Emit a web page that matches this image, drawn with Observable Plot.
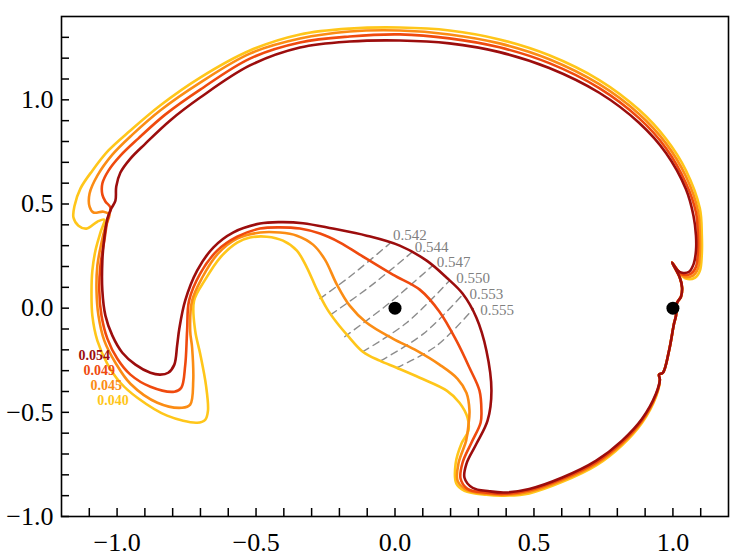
<!DOCTYPE html>
<html>
<head>
<meta charset="utf-8">
<script src="https://cdn.jsdelivr.net/npm/d3@7"></script>
<script src="https://cdn.jsdelivr.net/npm/@observablehq/plot@0.6"></script>
<style>
  html, body { margin: 0; padding: 0; background: #fff; }
  #chart { width: 730px; height: 557px; }
</style>
</head>
<body>
<div id="chart"></div>
<script>
// Outer contour levels and their colours
const levels = ["0.040", "0.045", "0.049", "0.054"];
const levelColors = ["#ffc61a", "#fb8c14", "#ef4a0e", "#9c0d0d"];

// Shared right-hand stretch near the second primary (all levels coincide here)
const rightSide = [[0.953,-0.343],[0.950,-0.319],[0.964,-0.310],[0.986,-0.204],[1.004,-0.074],[1.011,-0.036],[1.015,0.026],[1.029,0.055],[1.033,0.098],[1.025,0.146],[0.997,0.219],[1.018,0.180]];

const curve054 = [[1.033,0.170],[1.058,0.175],[1.075,0.214],[1.083,0.276],[1.083,0.348],[1.074,0.444],[1.047,0.571],[0.975,0.745],[0.878,0.890],[0.735,1.034],[0.555,1.153],[0.376,1.229],[0.196,1.271],[0.017,1.285],[-0.163,1.280],[-0.342,1.251],[-0.522,1.165],[-0.701,1.011],[-0.809,0.901],[-0.898,0.790],[-0.952,0.718],[-0.988,0.651],[-1.003,0.584],[-1.006,0.516],[-1.021,0.478],[-1.035,0.430],[-1.046,0.339],[-1.053,0.228],[-1.053,0.084],[-1.042,-0.036],[-1.017,-0.132],[-0.981,-0.214],[-0.934,-0.271],[-0.880,-0.310],[-0.845,-0.319],[-0.816,-0.310],[-0.794,-0.271],[-0.784,-0.180],[-0.776,-0.098],[-0.755,0.036],[-0.712,0.180],[-0.654,0.291],[-0.583,0.363],[-0.486,0.406],[-0.414,0.413],[-0.331,0.408],[-0.224,0.382],[-0.102,0.348],[0.017,0.300],[0.114,0.228],[0.186,0.146],[0.243,0.070],[0.293,-0.046],[0.329,-0.204],[0.347,-0.396],[0.333,-0.540],[0.293,-0.651],[0.257,-0.747],[0.250,-0.814],[0.279,-0.862],[0.340,-0.879],[0.394,-0.885],[0.483,-0.868],[0.602,-0.813],[0.724,-0.732],[0.817,-0.636],[0.889,-0.531],[0.939,-0.411]];

const curve049 = [[1.036,0.161],[1.065,0.166],[1.083,0.199],[1.090,0.271],[1.090,0.348],[1.083,0.459],[1.047,0.600],[0.975,0.768],[0.878,0.912],[0.735,1.056],[0.555,1.176],[0.376,1.252],[0.196,1.295],[0.017,1.314],[-0.163,1.304],[-0.342,1.275],[-0.522,1.198],[-0.701,1.049],[-0.827,0.929],[-0.924,0.814],[-0.988,0.732],[-1.031,0.660],[-1.053,0.598],[-1.053,0.545],[-1.042,0.512],[-1.024,0.483],[-1.035,0.420],[-1.046,0.324],[-1.060,0.204],[-1.064,0.084],[-1.056,-0.036],[-1.035,-0.146],[-0.999,-0.243],[-0.952,-0.319],[-0.880,-0.377],[-0.794,-0.401],[-0.769,-0.382],[-0.755,-0.276],[-0.748,-0.108],[-0.741,0.036],[-0.701,0.166],[-0.640,0.276],[-0.568,0.343],[-0.486,0.382],[-0.414,0.388],[-0.342,0.382],[-0.270,0.358],[-0.198,0.315],[-0.127,0.257],[-0.008,0.161],[0.089,0.089],[0.160,-0.017],[0.221,-0.156],[0.268,-0.286],[0.304,-0.396],[0.311,-0.492],[0.308,-0.550],[0.275,-0.646],[0.243,-0.742],[0.236,-0.819],[0.261,-0.867],[0.329,-0.886],[0.394,-0.891],[0.483,-0.874],[0.602,-0.819],[0.724,-0.740],[0.817,-0.644],[0.889,-0.538],[0.939,-0.415]];

const curve045 = [[1.040,0.151],[1.072,0.156],[1.090,0.190],[1.097,0.267],[1.097,0.348],[1.090,0.468],[1.047,0.632],[0.975,0.791],[0.878,0.932],[0.735,1.075],[0.555,1.195],[0.376,1.271],[0.196,1.314],[0.017,1.333],[-0.163,1.328],[-0.342,1.294],[-0.522,1.222],[-0.701,1.083],[-0.845,0.949],[-0.945,0.833],[-1.017,0.737],[-1.071,0.636],[-1.099,0.550],[-1.099,0.487],[-1.085,0.459],[-1.049,0.463],[-1.028,0.449],[-1.042,0.392],[-1.056,0.315],[-1.071,0.204],[-1.074,0.084],[-1.067,-0.036],[-1.046,-0.156],[-1.006,-0.262],[-0.952,-0.363],[-0.855,-0.454],[-0.766,-0.478],[-0.737,-0.463],[-0.726,-0.348],[-0.730,-0.190],[-0.737,-0.108],[-0.730,0.036],[-0.694,0.146],[-0.637,0.262],[-0.568,0.334],[-0.486,0.363],[-0.414,0.363],[-0.353,0.348],[-0.295,0.305],[-0.252,0.233],[-0.209,0.113],[-0.163,0.012],[-0.102,-0.070],[-0.008,-0.146],[0.078,-0.204],[0.160,-0.271],[0.225,-0.339],[0.257,-0.406],[0.268,-0.492],[0.264,-0.564],[0.256,-0.636],[0.229,-0.742],[0.225,-0.828],[0.257,-0.872],[0.329,-0.891],[0.394,-0.896],[0.483,-0.881],[0.602,-0.826],[0.724,-0.747],[0.817,-0.651],[0.889,-0.543],[0.939,-0.420]];

const curve040 = [[1.047,0.142],[1.079,0.146],[1.097,0.180],[1.104,0.262],[1.104,0.348],[1.097,0.478],[1.047,0.661],[0.975,0.813],[0.878,0.952],[0.735,1.095],[0.555,1.214],[0.376,1.290],[0.196,1.333],[0.017,1.347],[-0.163,1.342],[-0.342,1.314],[-0.522,1.237],[-0.701,1.107],[-0.845,0.973],[-0.952,0.853],[-1.031,0.757],[-1.089,0.660],[-1.132,0.574],[-1.153,0.492],[-1.157,0.435],[-1.139,0.396],[-1.110,0.382],[-1.071,0.415],[-1.046,0.425],[-1.060,0.363],[-1.078,0.276],[-1.089,0.180],[-1.092,0.084],[-1.089,-0.036],[-1.071,-0.156],[-1.035,-0.267],[-0.988,-0.358],[-0.927,-0.430],[-0.820,-0.516],[-0.712,-0.550],[-0.683,-0.536],[-0.673,-0.492],[-0.680,-0.372],[-0.701,-0.219],[-0.719,-0.108],[-0.723,0.036],[-0.683,0.137],[-0.629,0.243],[-0.568,0.315],[-0.522,0.339],[-0.461,0.343],[-0.403,0.324],[-0.353,0.276],[-0.317,0.195],[-0.281,0.089],[-0.245,-0.002],[-0.209,-0.070],[-0.170,-0.132],[-0.116,-0.209],[-0.055,-0.252],[0.006,-0.286],[0.089,-0.334],[0.186,-0.396],[0.232,-0.454],[0.261,-0.526],[0.264,-0.588],[0.239,-0.651],[0.218,-0.747],[0.221,-0.843],[0.250,-0.877],[0.329,-0.896],[0.394,-0.900],[0.483,-0.889],[0.602,-0.834],[0.724,-0.755],[0.817,-0.658],[0.889,-0.550],[0.939,-0.425]];

// Inner family of dashed contours
const innerLevels = ["0.542", "0.544", "0.547", "0.550", "0.553", "0.555"];
const inner542 = [[-0.270,0.046],[-0.163,0.151],[-0.019,0.310]];
const inner544 = [[-0.231,-0.031],[-0.091,0.103],[0.060,0.267]];
const inner547 = [[-0.181,-0.137],[-0.019,0.026],[0.135,0.204]];
const inner550 = [[-0.116,-0.209],[0.042,-0.070],[0.196,0.132]];
const inner553 = [[-0.051,-0.252],[0.103,-0.122],[0.247,0.070]];
const inner555 = [[0.006,-0.286],[0.150,-0.180],[0.282,-0.002]];

// The two primaries
const primaries = [[0, 0], [1, 0]];

// Label anchors (left edge, vertical centre) in data units
const levelLabelSpots = [[-1.071,-0.444],[-1.096,-0.372],[-1.121,-0.300],[-1.139,-0.228]];
const innerLabelSpots = [[-0.007,0.348],[0.071,0.292],[0.150,0.220],[0.220,0.142],[0.268,0.065],[0.307,-0.012]];

// Axis ticks
const xTicks = d3.range(-11, 12).map(i => i / 10);
const yTicks = d3.range(-10, 14).map(i => i / 10);
const isMajor = d => Math.abs(Math.round(d * 10)) % 5 === 0;
const fmt = d3.format(".1f");

const serif = "'Liberation Serif', 'DejaVu Serif', serif";

const outerCurves = [curve040, curve045, curve049, curve054].map(c => c.concat(rightSide));
const innerCurves = [inner542, inner544, inner547, inner550, inner553, inner555];
const innerRows = innerCurves.flatMap((c, i) => c.map(([x, y]) => ({level: innerLevels[i], x, y})));

const chart = Plot.plot({
  width: 730,
  height: 557,
  marginLeft: 61,
  marginRight: 2,
  marginTop: 16,
  marginBottom: 41,
  x: {domain: [-1.2, 1.2]},
  y: {domain: [-1.0, 1.4]},
  style: {fontFamily: serif, background: "#fff", color: "#000", overflow: "visible"},
  marks: [
    // dashed inner contours
    Plot.line(innerRows, {x: "x", y: "y", z: "level", stroke: "#8c8c8c", strokeWidth: 1.4, strokeDasharray: "7,5", curve: "catmull-rom"}),
    // outer contours, lowest level first so the darkest sits on top
    ...outerCurves.map((c, i) => Plot.line(c, {x: d => d[0], y: d => d[1], stroke: levelColors[i], strokeWidth: 2.6, curve: "catmull-rom-closed"})),
    Plot.dot(primaries, {x: d => d[0], y: d => d[1], r: 6.5, fill: "#000", stroke: "none"}),
    Plot.text(levels, {x: (d, i) => levelLabelSpots[i][0], y: (d, i) => levelLabelSpots[i][1], text: d => d, fill: (d, i) => levelColors[i], fontWeight: "bold", fontSize: 14, fontFamily: serif, textAnchor: "start"}),
    Plot.text(innerLevels, {x: (d, i) => innerLabelSpots[i][0], y: (d, i) => innerLabelSpots[i][1], text: d => d, fill: "#808080", fontSize: 15, fontFamily: serif, textAnchor: "start"}),
    Plot.frame({stroke: "#000", strokeWidth: 1.6}),
    Plot.axisX({ticks: xTicks, anchor: "bottom", tickSize: -8, tickPadding: 24, strokeWidth: 1.5, fontSize: 26, fontFamily: serif, tickFormat: d => isMajor(d) ? fmt(d) : "", label: null}),
    Plot.axisY({ticks: yTicks, anchor: "left", tickSize: -8, tickPadding: 16, strokeWidth: 1.5, fontSize: 26, fontFamily: serif, tickFormat: d => isMajor(d) ? fmt(d) : "", label: null})
  ]
});

document.getElementById("chart").appendChild(chart);
</script>
</body>
</html>
